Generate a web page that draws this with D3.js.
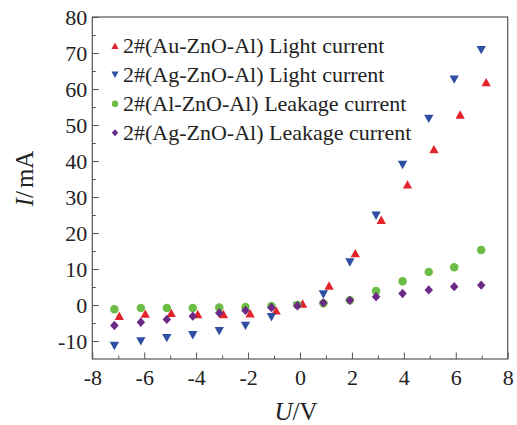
<!DOCTYPE html>
<html>
<head>
<meta charset="utf-8">
<script src="https://cdn.jsdelivr.net/npm/d3@7"></script>
<style>
  body { margin: 0; background: #fff; }
</style>
</head>
<body>
<div id="chart"></div>
<script>
// series (U in V, I in mA)
const auLightU = [-6.96, -5.96, -4.96, -3.94, -2.95, -1.92, -0.92, 0.1, 1.12, 2.13, 3.13, 4.14, 5.16, 6.17, 7.17];
const auLightI = [-3.0, -2.4, -2.2, -2.5, -2.5, -2.3, -1.5, 0.4, 5.4, 14.4, 23.7, 33.5, 43.3, 52.9, 61.9];
const agLightU = [-7.15, -6.13, -5.13, -4.13, -3.11, -2.1, -1.1, -0.1, 0.9, 1.92, 2.93, 3.95, 4.96, 5.94, 6.98];
const agLightI = [-11.4, -10.1, -9.2, -8.4, -7.3, -5.8, -3.4, -0.3, 2.9, 11.8, 24.8, 38.9, 51.7, 62.6, 70.8];
const alLeakU = [-7.15, -6.13, -5.13, -4.13, -3.11, -2.1, -1.1, -0.1, 0.9, 1.92, 2.93, 3.95, 4.96, 5.94, 6.98];
const alLeakI = [-1.2, -0.8, -0.8, -0.8, -0.7, -0.55, -0.3, 0.0, 0.5, 1.3, 3.9, 6.6, 9.2, 10.5, 15.3];
const agLeakU = [-7.15, -6.13, -5.13, -4.13, -3.11, -2.1, -1.1, -0.1, 0.9, 1.92, 2.93, 3.95, 4.96, 5.94, 6.98];
const agLeakI = [-5.7, -4.8, -4.0, -3.1, -2.2, -1.5, -0.7, -0.2, 0.6, 1.3, 2.3, 3.2, 4.2, 5.1, 5.5];

const seriesNames = [
  "2#(Au-ZnO-Al) Light current",
  "2#(Ag-ZnO-Al) Light current",
  "2#(Al-ZnO-Al) Leakage current",
  "2#(Ag-ZnO-Al) Leakage current"
];
const xTicks = [-8, -6, -4, -2, 0, 2, 4, 6, 8];
const yTicks = [-10, 0, 10, 20, 30, 40, 50, 60, 70, 80];

const width = 517, height = 425;
const margin = {top: 17, right: 9.3, bottom: 66, left: 92.3};
const serif = "Liberation Serif, Times New Roman, serif";

// marker shapes, centred on their bounding box
const triUp = { draw(ctx, s) { const w = Math.sqrt(s) * 1.1, h = w * 0.9;
  ctx.moveTo(0, -h / 2); ctx.lineTo(w / 2, h / 2); ctx.lineTo(-w / 2, h / 2); ctx.closePath(); } };
const triDown = { draw(ctx, s) { const w = Math.sqrt(s) * 1.1, h = w * 0.9;
  ctx.moveTo(0, h / 2); ctx.lineTo(w / 2, -h / 2); ctx.lineTo(-w / 2, -h / 2); ctx.closePath(); } };
const dot = { draw(ctx, s) { const r = Math.sqrt(s) / 2; ctx.moveTo(r, 0); ctx.arc(0, 0, r, 0, 2 * Math.PI); } };
const diamond = { draw(ctx, s) { const w = Math.sqrt(s) / 2, h = w * 1.1;
  ctx.moveTo(0, -h); ctx.lineTo(w, 0); ctx.lineTo(0, h); ctx.lineTo(-w, 0); ctx.closePath(); } };

const series = [
  {name: seriesNames[0], u: auLightU, i: auLightI, shape: triUp, color: "#e3232b", size: 72},
  {name: seriesNames[1], u: agLightU, i: agLightI, shape: triDown, color: "#2f4fa3", size: 72},
  {name: seriesNames[2], u: alLeakU, i: alLeakI, shape: dot, color: "#6cbd45", size: 72},
  {name: seriesNames[3], u: agLeakU, i: agLeakI, shape: diamond, color: "#6b2a85", size: 72}
];

const svg = d3.select("#chart").append("svg")
  .attr("width", width)
  .attr("height", height)
  .style("display", "block")
  .style("font-family", serif);

const x = d3.scaleLinear().domain([-8, 8]).range([margin.left, width - margin.right]);
const y = d3.scaleLinear().domain([-15, 80]).range([height - margin.bottom, margin.top]);

// restyle an axis group after d3 has drawn it
function styleAxis(g) {
  g.attr("font-family", null).attr("font-size", null);
  g.select(".domain").remove();
  g.selectAll("line").attr("stroke", "#555");
  g.selectAll("text")
    .attr("fill", "#222")
    .style("font-family", serif)
    .style("font-size", "22px");
}

// minor ticks (inward)
svg.append("g")
  .attr("transform", `translate(0,${y(-15)})`)
  .call(d3.axisBottom(x).tickValues(d3.range(-7, 8, 2)).tickSize(-3.5).tickFormat(""))
  .call(styleAxis);
svg.append("g")
  .attr("transform", `translate(${x(-8)},0)`)
  .call(d3.axisLeft(y).tickValues(d3.range(-5, 80, 10)).tickSize(-3.5).tickFormat(""))
  .call(styleAxis);

// major ticks
svg.append("g")
  .attr("transform", `translate(0,${y(-15)})`)
  .call(d3.axisBottom(x).tickValues(xTicks).tickSize(-6.5).tickPadding(10).tickFormat(d => String(d)))
  .call(styleAxis);
svg.append("g")
  .attr("transform", `translate(${x(-8)},0)`)
  .call(d3.axisLeft(y).tickValues(yTicks).tickSize(-6.5).tickPadding(5).tickFormat(d => String(d)))
  .call(styleAxis);

// frame
svg.append("rect")
  .attr("x", x(-8)).attr("y", y(80))
  .attr("width", x(8) - x(-8)).attr("height", y(-15) - y(80))
  .attr("fill", "none")
  .attr("stroke", "#555")
  .attr("stroke-width", 1.2);

// points
series.forEach(s => {
  svg.append("g")
    .selectAll("path")
    .data(s.u.map((u, k) => [u, s.i[k]]))
    .join("path")
      .attr("transform", d => `translate(${x(d[0])},${y(d[1])})`)
      .attr("d", d3.symbol().type(s.shape).size(s.size))
      .attr("fill", s.color);
});

// legend
const legend = svg.append("g")
  .attr("transform", `translate(115,45.7)`);
const rows = legend.selectAll("g")
  .data(series)
  .join("g")
    .attr("transform", (d, k) => `translate(0,${k * 29})`);
rows.append("path")
  .attr("d", d => d3.symbol().type(d.shape).size(42)())
  .attr("fill", d => d.color);
rows.append("text")
  .attr("x", 8)
  .attr("y", 7.5)
  .style("font-size", "22px")
  .attr("fill", "#222")
  .text(d => d.name);

// axis titles
svg.append("text")
  .attr("transform", `translate(33,178.5) rotate(-90)`)
  .attr("text-anchor", "middle")
  .style("font-size", "25px")
  .attr("fill", "#222")
  .html('<tspan font-style="italic">I</tspan>/<tspan dx="3">mA</tspan>');

svg.append("text")
  .attr("x", 296)
  .attr("y", 420)
  .attr("text-anchor", "middle")
  .style("font-size", "25px")
  .attr("fill", "#222")
  .html('<tspan font-style="italic">U</tspan>/V');
</script>
</body>
</html>
